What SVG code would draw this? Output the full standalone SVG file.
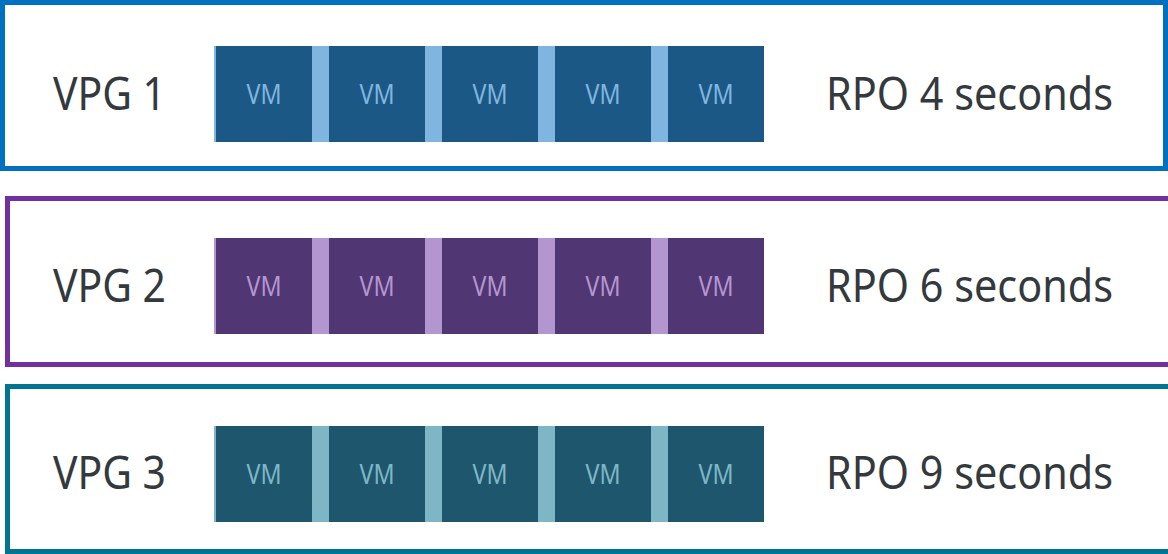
<svg xmlns="http://www.w3.org/2000/svg" width="1168" height="554" viewBox="0 0 1168 554">
<style>
.frame{fill:#fff;stroke-width:5}
.lbl{font-family:"Noto Sans","Liberation Sans",sans-serif;font-size:45px;fill:#33393d}
.vm{font-family:"Noto Sans","Liberation Sans",sans-serif;font-size:27px;text-anchor:middle}
</style>
<rect width="1168" height="554" fill="#fff"/>
<g id="vpg1">
<rect class="frame" x="2.5" y="2.5" width="1163" height="166" stroke="#0070c0"/>
<text class="lbl" x="53" y="110" textLength="113" lengthAdjust="spacingAndGlyphs">VPG 1</text>
<rect x="214" y="46" width="550" height="96" fill="#7fb5de"/>
<g fill="#1c5886">
<rect x="216" y="46" width="96" height="96"/><rect x="329" y="46" width="96" height="96"/><rect x="442" y="46" width="96" height="96"/><rect x="555" y="46" width="96" height="96"/><rect x="668" y="46" width="96" height="96"/>
</g>
<g class="vm" fill="#7fb5de">
<text x="264" y="104" textLength="35" lengthAdjust="spacingAndGlyphs">VM</text><text x="377" y="104" textLength="35" lengthAdjust="spacingAndGlyphs">VM</text><text x="490" y="104" textLength="35" lengthAdjust="spacingAndGlyphs">VM</text><text x="603" y="104" textLength="35" lengthAdjust="spacingAndGlyphs">VM</text><text x="716" y="104" textLength="35" lengthAdjust="spacingAndGlyphs">VM</text>
</g>
<text class="lbl" x="826" y="110" textLength="287" lengthAdjust="spacingAndGlyphs">RPO 4 seconds</text>
</g>
<g id="vpg2">
<rect class="frame" x="7.5" y="198.5" width="1170" height="166" stroke="#7030a0"/>
<text class="lbl" x="53" y="302" textLength="113" lengthAdjust="spacingAndGlyphs">VPG 2</text>
<rect x="214" y="238" width="550" height="96" fill="#b395cf"/>
<g fill="#503673">
<rect x="216" y="238" width="96" height="96"/><rect x="329" y="238" width="96" height="96"/><rect x="442" y="238" width="96" height="96"/><rect x="555" y="238" width="96" height="96"/><rect x="668" y="238" width="96" height="96"/>
</g>
<g class="vm" fill="#b395cf">
<text x="264" y="296" textLength="35" lengthAdjust="spacingAndGlyphs">VM</text><text x="377" y="296" textLength="35" lengthAdjust="spacingAndGlyphs">VM</text><text x="490" y="296" textLength="35" lengthAdjust="spacingAndGlyphs">VM</text><text x="603" y="296" textLength="35" lengthAdjust="spacingAndGlyphs">VM</text><text x="716" y="296" textLength="35" lengthAdjust="spacingAndGlyphs">VM</text>
</g>
<text class="lbl" x="826" y="302" textLength="287" lengthAdjust="spacingAndGlyphs">RPO 6 seconds</text>
</g>
<g id="vpg3">
<rect class="frame" x="7.5" y="386.5" width="1170" height="165" stroke="#007490"/>
<text class="lbl" x="53" y="489" textLength="113" lengthAdjust="spacingAndGlyphs">VPG 3</text>
<rect x="214" y="426" width="550" height="96" fill="#7fb6c6"/>
<g fill="#1e566e">
<rect x="216" y="426" width="96" height="96"/><rect x="329" y="426" width="96" height="96"/><rect x="442" y="426" width="96" height="96"/><rect x="555" y="426" width="96" height="96"/><rect x="668" y="426" width="96" height="96"/>
</g>
<g class="vm" fill="#7fb6c6">
<text x="264" y="484" textLength="35" lengthAdjust="spacingAndGlyphs">VM</text><text x="377" y="484" textLength="35" lengthAdjust="spacingAndGlyphs">VM</text><text x="490" y="484" textLength="35" lengthAdjust="spacingAndGlyphs">VM</text><text x="603" y="484" textLength="35" lengthAdjust="spacingAndGlyphs">VM</text><text x="716" y="484" textLength="35" lengthAdjust="spacingAndGlyphs">VM</text>
</g>
<text class="lbl" x="826" y="489" textLength="287" lengthAdjust="spacingAndGlyphs">RPO 9 seconds</text>
</g>
<g id="connectors"/>
</svg>
